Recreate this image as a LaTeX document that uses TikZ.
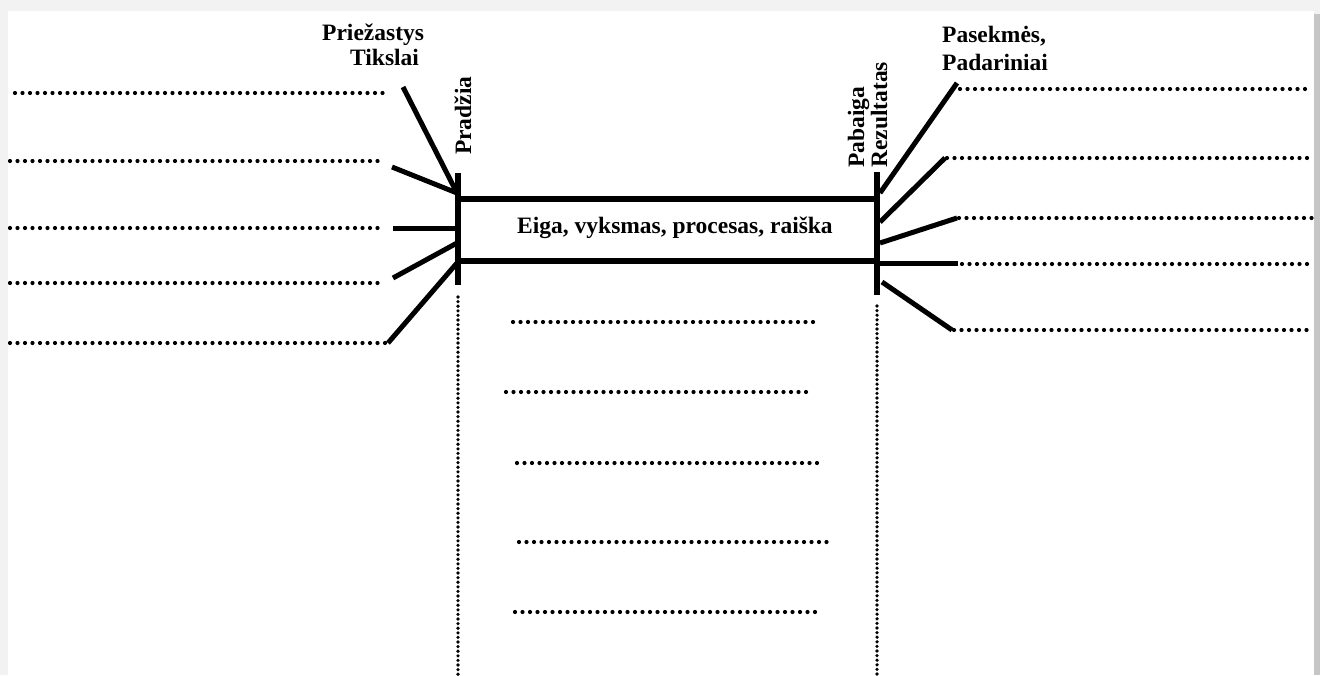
\documentclass[tikz,border=0pt]{standalone}
\usepackage{fontspec}
\setmainfont{Liberation Serif}
\begin{document}
\begin{tikzpicture}[x=1pt,y=-1pt,
  thickline/.style={line width=5.5pt},
  spoke/.style={line width=5pt},
  dotline/.style={line width=4.2pt, line cap=round, dash pattern=on 0pt off 7.5pt},
  vdotline/.style={line width=3.6pt, line cap=round, dash pattern=on 0pt off 4.6pt},
  lbl/.style={font=\fontsize{23.5}{26}\selectfont\bfseries, inner sep=0pt}]
\useasboundingbox (0,0) rectangle (1320,675);
% frame
\fill[gray!10] (0,0) rectangle (1320,675);
\fill[white] (8,11) rectangle (1314,675);
\fill[gray!45] (1314,14) rectangle (1320,675);

% central box
\node[draw, thickline, minimum width=419pt, minimum height=62pt, inner sep=0pt] (box) at (667.5,230) {};
\node[lbl, anchor=base] (eiga) at (675,233) {Eiga, vyksmas, procesas, raiška};

% bars
\coordinate (lbt) at (458,173);
\coordinate (lbb) at (458,285);
\coordinate (rbt) at (877,172);
\coordinate (rbb) at (877,295);
\draw[thickline] (lbt) -- (lbb);
\draw[thickline] (rbt) -- (rbb);

% labels
\node[lbl, anchor=base west] (prie) at (322,40) {Priežastys};
\node[lbl, anchor=base west] (piks) at (350,65) {Tikslai};
\node[lbl, anchor=base west] (pase) at (942,42) {Pasekmės,};
\node[lbl, anchor=base west] (pada) at (942,70) {Padariniai};
\node[lbl, anchor=base west, rotate=90] (prad) at (471,155) {Pradžia};
\node[lbl, anchor=base west, rotate=90] (paba) at (864,168) {Pabaiga};
\node[lbl, anchor=base west, rotate=90] (rezu) at (887,168) {Rezultatas};

% left spokes
\coordinate (la1) at (403,87);  \coordinate (lb1) at (457,193);
\coordinate (la2) at (392,167); \coordinate (lb2) at (457,193);
\coordinate (la3) at (393,228); \coordinate (lb3) at (458,228);
\coordinate (la4) at (393,278); \coordinate (lb4) at (457,243);
\coordinate (la5) at (388,343); \coordinate (lb5) at (457,263);
\foreach \i in {1,...,5} \draw[spoke] (la\i) -- (lb\i);

% left dotted lines
\coordinate (ld1a) at (15,93);  \coordinate (ld1b) at (388,93);
\coordinate (ld2a) at (10,161); \coordinate (ld2b) at (385,161);
\coordinate (ld3a) at (10,228); \coordinate (ld3b) at (380,228);
\coordinate (ld4a) at (10,283); \coordinate (ld4b) at (378,283);
\coordinate (ld5a) at (10,343); \coordinate (ld5b) at (387,343);
\foreach \i in {1,...,5} \draw[dotline] (ld\i a) -- (ld\i b);

% right spokes
\coordinate (ra1) at (880,193); \coordinate (rb1) at (957,83);
\coordinate (ra2) at (880,222); \coordinate (rb2) at (945,158);
\coordinate (ra3) at (880,243); \coordinate (rb3) at (957,218);
\coordinate (ra4) at (877,263); \coordinate (rb4) at (958,263);
\coordinate (ra5) at (882,282); \coordinate (rb5) at (952,330);
\foreach \i in {1,...,5} \draw[spoke] (ra\i) -- (rb\i);

% right dotted lines
\coordinate (rd1a) at (960,89);  \coordinate (rd1b) at (1312,89);
\coordinate (rd2a) at (947,158); \coordinate (rd2b) at (1312,158);
\coordinate (rd3a) at (959,218); \coordinate (rd3b) at (1312,218);
\coordinate (rd4a) at (962,264); \coordinate (rd4b) at (1312,264);
\coordinate (rd5a) at (954,330); \coordinate (rd5b) at (1312,330);
\foreach \i in {1,...,5} \draw[dotline] (rd\i a) -- (rd\i b);

% vertical dotted lines
\coordinate (lv1) at (458,297); \coordinate (lv2) at (458,675);
\coordinate (rv1) at (877,306); \coordinate (rv2) at (877,675);
\draw[vdotline] (lv1) -- (lv2);
\draw[vdotline] (rv1) -- (rv2);

% middle dotted lines
\coordinate (m1a) at (513,322); \coordinate (m1b) at (820,322);
\coordinate (m2a) at (506,392); \coordinate (m2b) at (813,392);
\coordinate (m3a) at (517,463); \coordinate (m3b) at (823,463);
\coordinate (m4a) at (519,542); \coordinate (m4b) at (827,542);
\coordinate (m5a) at (515,612); \coordinate (m5b) at (822,612);
\foreach \i in {1,...,5} \draw[dotline] (m\i a) -- (m\i b);
\end{tikzpicture}
\end{document}
